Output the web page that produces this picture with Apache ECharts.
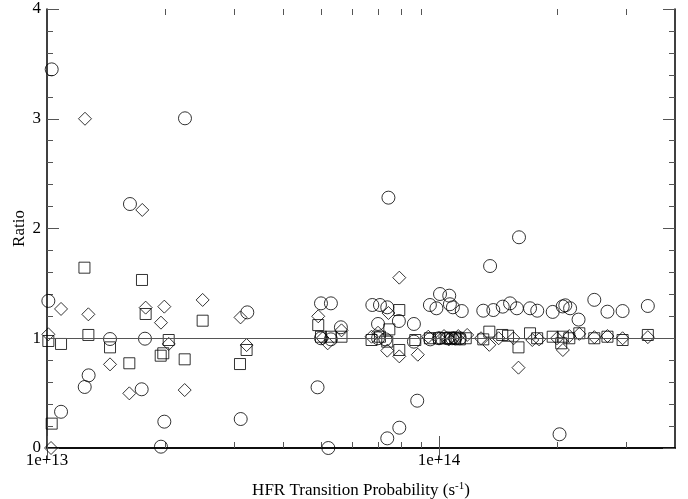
<!DOCTYPE html>
<html>
<head>
<meta charset="utf-8">
<script src="https://cdn.jsdelivr.net/npm/echarts@6/dist/echarts.min.js"></script>
<style>
html,body{margin:0;padding:0;background:#fff;}
#chart{width:688px;height:499px;}
</style>
</head>
<body>
<div id="chart"></div>
<script>
// Data: [HFR transition probability (s^-1), ratio]
const circleData = [
  [1.028e13,3.45],[1.008e13,1.34],[1.086e13,0.33],[1.248e13,0.556],[1.277e13,0.662],
  [1.448e13,0.993],[1.628e13,2.223],[1.744e13,0.535],[1.778e13,0.996],[1.953e13,0.012],
  [1.992e13,0.24],[2.249e13,3.004],[3.243e13,1.236],[3.12e13,0.264],
  [5.0e13,1.318],[5.3e13,1.318],[5.62e13,1.1],[4.9e13,0.553],[5.22e13,0.0],[5.0e13,1.0],[5.3e13,0.99],
  [7.43e13,2.281],[6.76e13,1.303],[7.07e13,1.303],[7.38e13,1.282],[7.9e13,1.157],[8.63e13,1.13],
  [6.99e13,1.13],[8.8e13,0.431],[7.92e13,0.185],[7.38e13,0.088],[8.63e13,0.969],[6.99e13,1.0],[7.3e13,0.99],
  [1.006e14,1.403],[1.062e14,1.388],[9.48e13,1.303],[9.85e13,1.273],[1.066e14,1.31],[1.085e14,1.282],[1.143e14,1.248],
  [1.35e14,1.658],[1.6e14,1.92],
  [1.297e14,1.251],[1.376e14,1.257],[1.454e14,1.288],[1.518e14,1.318],[1.58e14,1.273],[1.707e14,1.273],
  [1.781e14,1.251],[1.95e14,1.24],[2.068e14,1.29],[2.1e14,1.3],[2.16e14,1.273],[2.27e14,1.17],
  [2.49e14,1.35],[2.69e14,1.242],[2.94e14,1.248],[3.41e14,1.294],[2.03e14,0.125],
  [9.5e13,0.99],[1.0e14,1.0],[1.05e14,1.0],[1.08e14,1.0],[1.1e14,1.0],[1.13e14,1.0]
];
const squareData = [
  [1.028e13,0.222],[1.008e13,0.975],[1.086e13,0.948],[1.246e13,1.643],[1.275e13,1.03],
  [1.448e13,0.917],[1.622e13,0.772],[1.747e13,1.531],[1.785e13,1.221],[2.044e13,0.984],
  [1.98e13,0.863],[1.95e13,0.841],[2.245e13,0.808],[2.495e13,1.16],[3.107e13,0.765],[3.23e13,0.893],
  [4.92e13,1.12],[5.0e13,1.014],[5.3e13,1.014],[5.64e13,1.014],[7.92e13,1.257],[7.47e13,1.081],
  [6.73e13,0.984],[7.07e13,1.014],[7.38e13,0.969],[7.92e13,0.893],[8.7e13,0.984],[9.48e13,1.0],
  [1.0e14,1.0],[1.04e14,1.0],[1.07e14,1.0],[1.1e14,1.0],[1.13e14,0.99],[1.17e14,1.0],
  [1.297e14,0.99],[1.344e14,1.06],[1.45e14,1.03],[1.50e14,1.023],[1.595e14,0.917],[1.707e14,1.045],
  [1.78e14,1.0],[1.95e14,1.014],[2.07e14,1.014],[2.05e14,0.954],[2.15e14,1.0],[2.28e14,1.045],
  [2.49e14,1.0],[2.69e14,1.014],[2.94e14,0.984],[3.41e14,1.03]
];
const diamondData = [
  [1.024e13,0.0],[1.008e13,1.036],[1.086e13,1.267],[1.25e13,3.0],[1.275e13,1.218],[1.448e13,0.762],
  [1.622e13,0.498],[1.75e13,2.169],[1.785e13,1.279],[1.992e13,1.288],[1.953e13,1.142],[2.044e13,0.948],
  [2.245e13,0.528],[2.495e13,1.349],[3.117e13,1.19],[3.23e13,0.938],[4.92e13,1.2],[5.64e13,1.072],
  [5.2e13,0.954],[5.05e13,1.0],[7.92e13,1.552],[7.43e13,1.23],[6.99e13,1.05],[6.73e13,1.014],
  [7.38e13,0.887],[7.92e13,0.835],[8.83e13,0.85],[9.39e13,1.014],[1.0e14,1.0],[1.03e14,1.02],
  [1.06e14,0.99],[1.09e14,1.0],[1.12e14,1.02],[1.18e14,1.03],[1.28e14,1.0],[1.344e14,0.94],
  [1.42e14,1.0],[1.55e14,1.0],[1.595e14,0.732],[1.73e14,0.984],[1.80e14,0.99],[2.0e14,1.0],
  [2.07e14,0.893],[2.15e14,1.02],[2.28e14,1.04],[2.49e14,1.01],[2.69e14,1.02],[2.94e14,1.0],[3.41e14,1.01]
];
const xMajorTicks = [1e13, 1e14];
const xMinorTicks = [2e13,3e13,4e13,5e13,6e13,7e13,8e13,9e13,2e14,3e14];
const xMin = 1e13, xMax = 4e14;
const yMin = 0, yMax = 4, yInterval = 1;
const referenceRatio = 1;

const FONT = 'Liberation Serif';
const gridBox = {left: 47, top: 9, right: 13, bottom: 51, containLabel: false, outerBoundsMode: 'none'};
const tickColor = '#555';

function fmtExp(v){ return Number(v).toExponential(); }

function xAxisDef(gridIndex, position, ticks, len, showLabel){
  return {
    type: 'log', logBase: 10, gridIndex, position, min: xMin, max: xMax,
    axisLine: {show: gridIndex === 0, lineStyle: {color: '#000', width: 1.5}},
    axisTick: {show: true, inside: true, length: len, customValues: ticks, lineStyle: {color: tickColor, width: 1}},
    minorTick: {show: false},
    axisLabel: {show: showLabel, customValues: xMajorTicks, formatter: fmtExp, fontFamily: FONT, fontSize: 17, color: '#000', margin: 4},
    splitLine: {show: false}
  };
}

const chart = echarts.init(document.getElementById('chart'), null, {renderer: 'canvas'});
const hollow = {color: 'rgba(0,0,0,0)', borderColor: '#000', borderWidth: 1};
chart.setOption({
  animation: false,
  backgroundColor: '#fff',
  grid: [Object.assign({}, gridBox), Object.assign({}, gridBox)],
  xAxis: [
    Object.assign(xAxisDef(0, 'bottom', xMajorTicks, 12, true), {
      name: 'HFR Transition Probability (s{sup|-1})', nameLocation: 'middle', nameGap: 33,
      nameTextStyle: {fontFamily: FONT, fontSize: 17, color: '#000',
        rich: {sup: {fontFamily: FONT, fontSize: 11, color: '#000', verticalAlign: 'top', padding: [0,0,9,0]}}}
    }),
    xAxisDef(0, 'top', xMajorTicks, 12, false),
    xAxisDef(1, 'bottom', xMinorTicks, 6, false),
    xAxisDef(1, 'top', xMinorTicks, 6, false)
  ],
  yAxis: [
    {
      type: 'value', gridIndex: 0, position: 'left', min: yMin, max: yMax, interval: yInterval,
      name: 'Ratio', nameLocation: 'middle', nameGap: 19, nameRotate: 90, nameMoveOverlap: false,
      nameTextStyle: {fontFamily: FONT, fontSize: 17, color: '#000'},
      axisLine: {show: true, lineStyle: {color: '#000', width: 1.5}},
      axisTick: {show: true, inside: true, length: 12, lineStyle: {color: tickColor}},
      minorTick: {show: true, splitNumber: 5, length: 6, lineStyle: {color: tickColor}},
      axisLabel: {fontFamily: FONT, fontSize: 17, color: '#000', margin: 6},
      splitLine: {show: false}
    },
    {
      type: 'value', gridIndex: 0, position: 'right', min: yMin, max: yMax, interval: yInterval,
      axisLine: {show: true, lineStyle: {color: '#000', width: 1.5}},
      axisTick: {show: true, inside: true, length: 12, lineStyle: {color: tickColor}},
      minorTick: {show: true, splitNumber: 5, length: 6, lineStyle: {color: tickColor}},
      axisLabel: {show: false},
      splitLine: {show: false}
    },
    {
      type: 'value', gridIndex: 1, min: yMin, max: yMax, interval: yInterval, show: false
    }
  ],
  series: [
    {
      type: 'scatter', xAxisIndex: 0, yAxisIndex: 0, data: circleData,
      symbol: 'circle', symbolSize: 13, itemStyle: hollow, emphasis: {disabled: true}, silent: true,
      markLine: {
        silent: true, symbol: 'none', label: {show: false},
        lineStyle: {color: '#555', width: 1, type: 'solid'},
        data: [{yAxis: referenceRatio}]
      }
    },
    {
      type: 'scatter', xAxisIndex: 0, yAxisIndex: 0, data: squareData,
      symbol: 'rect', symbolSize: 11, itemStyle: hollow, emphasis: {disabled: true}, silent: true
    },
    {
      type: 'scatter', xAxisIndex: 0, yAxisIndex: 0, data: diamondData,
      symbol: 'diamond', symbolSize: 13, itemStyle: hollow, emphasis: {disabled: true}, silent: true
    }
  ]
});
</script>
</body>
</html>
